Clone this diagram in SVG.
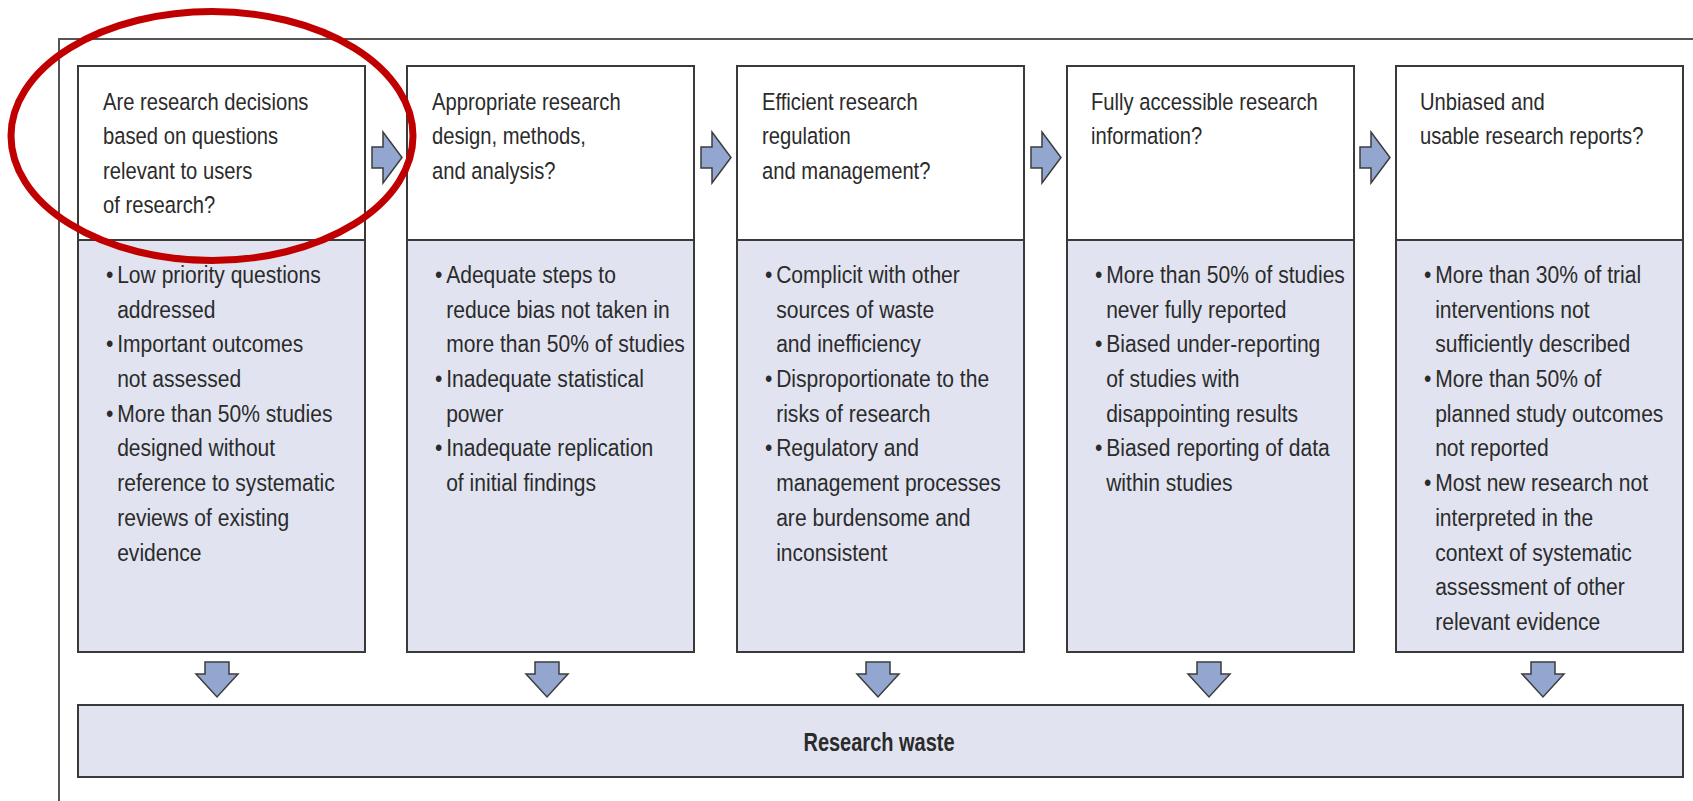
<svg xmlns="http://www.w3.org/2000/svg" width="1693" height="801" viewBox="0 0 1693 801">
<style>
.frame{fill:none;stroke:#555;stroke-width:2}
.top{fill:#fff;stroke:#3a3a3a;stroke-width:2}
.low{fill:#e1e4f0;stroke:#3a3a3a;stroke-width:2}
.arr{fill:#93a6cf;stroke:#3c3c3c;stroke-width:1.5;stroke-linejoin:miter}
.h{font-family:"Liberation Sans",Arial,sans-serif;font-size:23.5px;fill:#2b2b2b}
.b{font-family:"Liberation Sans",Arial,sans-serif;font-size:24.5px;fill:#2b2b2b}
.w{font-family:"Liberation Sans",Arial,sans-serif;font-size:25px;font-weight:bold;fill:#2b2b2b}
</style>
<defs>
<path id="ra" class="arr" d="M0,-10.5 H11 V-25.5 L30,0 L11,25.5 V10.5 H0 Z"/>
<path id="da" class="arr" d="M-12,0 H12 V12 H21 L0,35 L-21,12 H-12 Z"/>
</defs>
<rect width="1693" height="801" fill="#fff"/>
<path class="frame" d="M59,801 V39 H1693"/>

<g id="node1">
<rect class="top" x="78" y="66" width="287" height="174"/>
<rect class="low" x="78" y="240" width="287" height="412"/>
<g transform="translate(103,0) scale(0.86,1)"><text class="h"><tspan x="0" y="110">Are research decisions</tspan><tspan x="0" y="144.5">based on questions</tspan><tspan x="0" y="179">relevant to users</tspan><tspan x="0" y="213.5">of research?</tspan></text></g>
<g transform="translate(106,0) scale(0.86,1)"><text class="b"><tspan x="0" y="283">•</tspan><tspan x="13" y="283">Low priority questions</tspan><tspan x="13" y="317.7">addressed</tspan><tspan x="0" y="352.4">•</tspan><tspan x="13" y="352.4">Important outcomes</tspan><tspan x="13" y="387.1">not assessed</tspan><tspan x="0" y="421.8">•</tspan><tspan x="13" y="421.8">More than 50% studies</tspan><tspan x="13" y="456.5">designed without</tspan><tspan x="13" y="491.2">reference to systematic</tspan><tspan x="13" y="525.9">reviews of existing</tspan><tspan x="13" y="560.6">evidence</tspan></text></g>
</g>

<g id="node2">
<rect class="top" x="407" y="66" width="287" height="174"/>
<rect class="low" x="407" y="240" width="287" height="412"/>
<g transform="translate(432,0) scale(0.86,1)"><text class="h"><tspan x="0" y="110">Appropriate research</tspan><tspan x="0" y="144.5">design, methods,</tspan><tspan x="0" y="179">and analysis?</tspan></text></g>
<g transform="translate(435,0) scale(0.86,1)"><text class="b"><tspan x="0" y="283">•</tspan><tspan x="13" y="283">Adequate steps to</tspan><tspan x="13" y="317.7">reduce bias not taken in</tspan><tspan x="13" y="352.4">more than 50% of studies</tspan><tspan x="0" y="387.1">•</tspan><tspan x="13" y="387.1">Inadequate statistical</tspan><tspan x="13" y="421.8">power</tspan><tspan x="0" y="456.5">•</tspan><tspan x="13" y="456.5">Inadequate replication</tspan><tspan x="13" y="491.2">of initial findings</tspan></text></g>
</g>

<g id="node3">
<rect class="top" x="737" y="66" width="287" height="174"/>
<rect class="low" x="737" y="240" width="287" height="412"/>
<g transform="translate(762,0) scale(0.86,1)"><text class="h"><tspan x="0" y="110">Efficient research</tspan><tspan x="0" y="144.5">regulation</tspan><tspan x="0" y="179">and management?</tspan></text></g>
<g transform="translate(765,0) scale(0.86,1)"><text class="b"><tspan x="0" y="283">•</tspan><tspan x="13" y="283">Complicit with other</tspan><tspan x="13" y="317.7">sources of waste</tspan><tspan x="13" y="352.4">and inefficiency</tspan><tspan x="0" y="387.1">•</tspan><tspan x="13" y="387.1">Disproportionate to the</tspan><tspan x="13" y="421.8">risks of research</tspan><tspan x="0" y="456.5">•</tspan><tspan x="13" y="456.5">Regulatory and</tspan><tspan x="13" y="491.2">management processes</tspan><tspan x="13" y="525.9">are burdensome and</tspan><tspan x="13" y="560.6">inconsistent</tspan></text></g>
</g>

<g id="node4">
<rect class="top" x="1067" y="66" width="287" height="174"/>
<rect class="low" x="1067" y="240" width="287" height="412"/>
<g transform="translate(1091,0) scale(0.86,1)"><text class="h"><tspan x="0" y="110">Fully accessible research</tspan><tspan x="0" y="144.5">information?</tspan></text></g>
<g transform="translate(1095,0) scale(0.86,1)"><text class="b"><tspan x="0" y="283">•</tspan><tspan x="13" y="283">More than 50% of studies</tspan><tspan x="13" y="317.7">never fully reported</tspan><tspan x="0" y="352.4">•</tspan><tspan x="13" y="352.4">Biased under-reporting</tspan><tspan x="13" y="387.1">of studies with</tspan><tspan x="13" y="421.8">disappointing results</tspan><tspan x="0" y="456.5">•</tspan><tspan x="13" y="456.5">Biased reporting of data</tspan><tspan x="13" y="491.2">within studies</tspan></text></g>
</g>

<g id="node5">
<rect class="top" x="1396" y="66" width="287" height="174"/>
<rect class="low" x="1396" y="240" width="287" height="412"/>
<g transform="translate(1420,0) scale(0.86,1)"><text class="h"><tspan x="0" y="110">Unbiased and</tspan><tspan x="0" y="144.5">usable research reports?</tspan></text></g>
<g transform="translate(1424,0) scale(0.86,1)"><text class="b"><tspan x="0" y="283">•</tspan><tspan x="13" y="283">More than 30% of trial</tspan><tspan x="13" y="317.7">interventions not</tspan><tspan x="13" y="352.4">sufficiently described</tspan><tspan x="0" y="387.1">•</tspan><tspan x="13" y="387.1">More than 50% of</tspan><tspan x="13" y="421.8">planned study outcomes</tspan><tspan x="13" y="456.5">not reported</tspan><tspan x="0" y="491.2">•</tspan><tspan x="13" y="491.2">Most new research not</tspan><tspan x="13" y="525.9">interpreted in the</tspan><tspan x="13" y="560.6">context of systematic</tspan><tspan x="13" y="595.3">assessment of other</tspan><tspan x="13" y="630">relevant evidence</tspan></text></g>
</g>

<g id="waste">
<rect class="low" x="78" y="705" width="1605" height="72"/>
<g transform="translate(879,0) scale(0.8,1)"><text class="w" x="0" y="751" text-anchor="middle">Research waste</text></g>
</g>

<g id="connectors">
<use href="#ra" transform="translate(372,157.5)"/>
<use href="#ra" transform="translate(701,157.5)"/>
<use href="#ra" transform="translate(1031,157.5)"/>
<use href="#ra" transform="translate(1360,157.5)"/>
<use href="#da" transform="translate(217,662)"/>
<use href="#da" transform="translate(547,662)"/>
<use href="#da" transform="translate(878,662)"/>
<use href="#da" transform="translate(1209,662)"/>
<use href="#da" transform="translate(1543,662)"/>
</g>

<g id="highlight">
<ellipse cx="212" cy="136" rx="201" ry="124.5" fill="none" stroke="#c00000" stroke-width="7"/>
</g>
</svg>
